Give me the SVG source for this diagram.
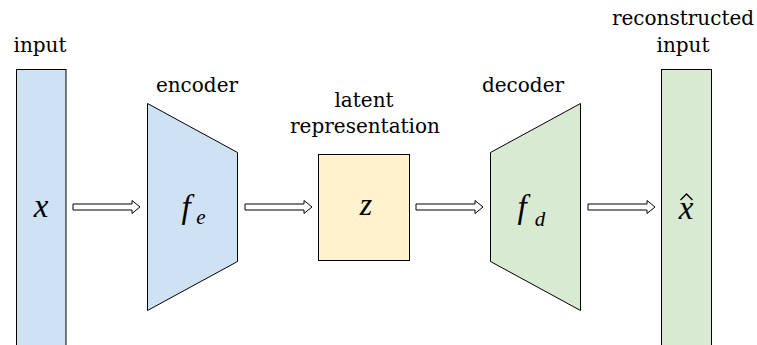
<svg xmlns="http://www.w3.org/2000/svg" xmlns:xlink="http://www.w3.org/1999/xlink" width="757" height="345" viewBox="0 0 757 345">
<style>
.lbl{font-family:"DejaVu Serif","Liberation Serif",serif;font-size:20px;fill:#000;text-anchor:middle}
.math{font-family:"Liberation Serif","DejaVu Serif",serif;font-style:italic;fill:#000;text-anchor:middle}
.shape{stroke:#000;stroke-width:1}
.blue{fill:#cfe2f3}.green{fill:#d9ead3}.yellow{fill:#fff2cc}
.arrow{fill:#fff;stroke:#000;stroke-width:1}
</style>
<defs>
<path id="arr" class="arrow" d="M0,-3 H59 V-6.5 L67,0 L59,6.5 V3 H0 Z"/>
</defs>
<rect width="757" height="345" fill="#fff"/>
<g id="input">
<rect class="shape blue" x="16.5" y="69.5" width="49.5" height="290"/>
<text class="lbl" x="40" y="52">input</text>
<text class="math" x="41" y="217" font-size="33">x</text>
</g>
<g id="encoder">
<path class="shape blue" d="M147.5,103.5 L237.5,152.5 L237.5,261.5 L147.5,310.5 Z"/>
<text class="lbl" x="197" y="92">encoder</text>
<text class="math" x="186" y="218" font-size="33">f</text>
<text class="math" x="201" y="224" font-size="21">e</text>
</g>
<g id="latent">
<rect class="shape yellow" x="318.5" y="154.5" width="91" height="106"/>
<text class="lbl" x="364" y="107">latent</text>
<text class="lbl" x="365" y="133">representation</text>
<text class="math" x="366" y="215" font-size="32">z</text>
</g>
<g id="decoder">
<path class="shape green" d="M490.5,152.5 L580.5,103.5 L580.5,310.5 L490.5,261.5 Z"/>
<text class="lbl" x="523" y="92">decoder</text>
<text class="math" x="522" y="218" font-size="33">f</text>
<text class="math" x="540" y="226" font-size="21">d</text>
</g>
<g id="output">
<rect class="shape green" x="661.5" y="69.5" width="50" height="290"/>
<text class="lbl" x="683" y="25">reconstructed</text>
<text class="lbl" x="683" y="52">input</text>
<text class="math" x="686" y="219" font-size="33">x</text>
<path d="M680.5,200 L686.5,194 L692.5,200" fill="none" stroke="#000" stroke-width="1.3"/>
</g>
<g id="connectors">
<use xlink:href="#arr" x="73" y="207"/>
<use xlink:href="#arr" x="245" y="207"/>
<use xlink:href="#arr" x="416" y="207"/>
<use xlink:href="#arr" x="588" y="207"/>
</g>
</svg>
